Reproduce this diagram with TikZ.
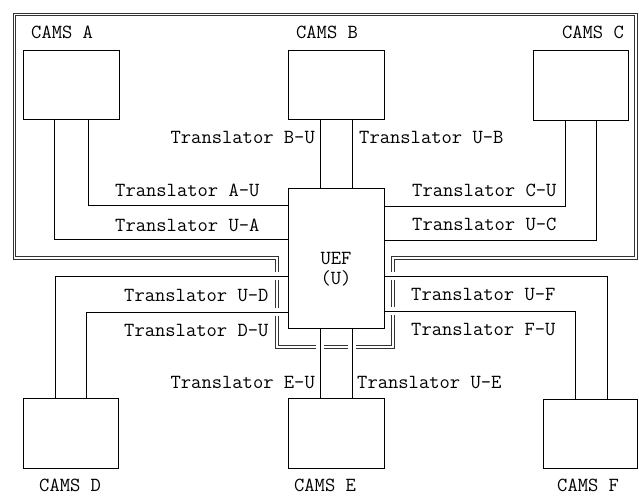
\documentclass[tikz,border=0pt]{standalone}
\usepackage{fontspec}
\usetikzlibrary{backgrounds}
\newcommand\camsconns{%
  \draw (camsA.south -| 88,0) |- (uef.west |- 0,205);
  \draw (camsA.south -| 54,0) |- (uef.west |- 0,239);
  \draw (camsB.south -| 320,0) -- (uef.north -| 320,0);
  \draw (camsB.south -| 352,0) -- (uef.north -| 352,0);
  \draw (camsC.south -| 565,0) |- (uef.east |- 0,206);
  \draw (camsC.south -| 596,0) |- (uef.east |- 0,240);
  \draw (camsD.north -| 55,0) |- (uef.west |- 0,276);
  \draw (camsD.north -| 86,0) |- (uef.west |- 0,312);
  \draw (uef.south -| 320,0) -- (camsE.north -| 320,0);
  \draw (uef.south -| 352,0) -- (camsE.north -| 352,0);
  \draw (camsF.north -| 607,0) |- (uef.east |- 0,276);
  \draw (camsF.north -| 575,0) |- (uef.east |- 0,311);
}
\begin{document}
\begin{tikzpicture}[x=1pt,y=-1pt,
  box/.style={draw, line width=0.9pt, rectangle, inner sep=0, minimum width=96pt},
  lbl/.style={inner sep=0, font=\fontsize{20}{17}\selectfont\ttfamily},
  frameline/.style={draw=black!80, line width=1pt, double, double distance=1.4pt}]
\useasboundingbox (0,0) rectangle (639,495);
% boxes
\node[box, minimum height=69pt] (camsA) at (71,84.5) {};
\node[box, minimum height=69pt] (camsB) at (336,84.5) {};
\node[box, minimum height=70pt, minimum width=95pt] (camsC) at (580.5,85) {};
\node[box, minimum height=70pt, minimum width=95pt] (camsD) at (70.5,433) {};
\node[box, minimum height=70pt] (camsE) at (336,433) {};
\node[box, minimum height=69pt, minimum width=94pt] (camsF) at (590,433.5) {};
\node[box, minimum height=140pt] (uef) at (336,258) {};
% connectors
\begin{scope}[line width=0.9pt]
  \camsconns
\end{scope}
% frame with gaps where connectors cross
\begin{pgfonlayer}{background}
  \draw[frameline] (14.5,14.5) -- (636,14.5) -- (636,258) -- (393,258) -- (393,347)
     -- (277,347) -- (277,258) -- (14.5,258) -- cycle;
  \begin{scope}[white, line width=8pt]
    \camsconns
  \end{scope}
\end{pgfonlayer}
% labels
\node[lbl, anchor=base west] (lA) at (31,38) {CAMS A};
\node[lbl, anchor=base] (lB) at (327,38) {CAMS B};
\node[lbl, anchor=base east] (lC) at (624,38) {CAMS C};
\node[lbl, anchor=base west] (lD) at (39,491) {CAMS D};
\node[lbl, anchor=base] (lE) at (325,491) {CAMS E};
\node[lbl, anchor=base west] (lF) at (557,491) {CAMS F};
\node[lbl, anchor=base] (tU1) at (uef.center |- 0,264) {UEF};
\node[lbl, anchor=base] (tU2) at (uef.center |- 0,284) {(U)};
\node[lbl, anchor=base east] (tBU) at (315,143) {Translator B-U};
\node[lbl, anchor=base west] (tUB) at (359,143) {Translator U-B};
\node[lbl, anchor=base west] (tAU) at (115,196) {Translator A-U};
\node[lbl, anchor=base west] (tUA) at (115,231) {Translator U-A};
\node[lbl, anchor=base west] (tCU) at (412,196) {Translator C-U};
\node[lbl, anchor=base west] (tUC) at (412,230) {Translator U-C};
\node[lbl, anchor=base west] (tUD) at (124,301) {Translator U-D};
\node[lbl, anchor=base west] (tDU) at (124,336) {Translator D-U};
\node[lbl, anchor=base west] (tUF) at (411,300) {Translator U-F};
\node[lbl, anchor=base west] (tFU) at (411,335) {Translator F-U};
\node[lbl, anchor=base east] (tEU) at (315,388) {Translator E-U};
\node[lbl, anchor=base west] (tUE) at (357,388) {Translator U-E};
\end{tikzpicture}
\end{document}
